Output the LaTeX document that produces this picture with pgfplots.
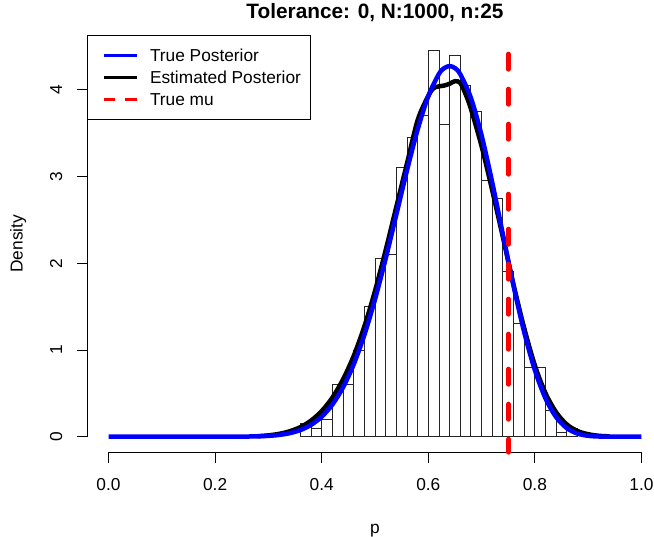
\documentclass[border=0pt]{standalone}
\usepackage{fontspec}
\setmainfont{Liberation Sans}
\usepackage{pgfplots}
\pgfplotsset{compat=1.18}
\definecolor{rblue}{RGB}{0,0,255}
\definecolor{rred}{RGB}{255,0,0}
\begin{document}
\fontsize{17.3bp}{20.8bp}\selectfont
\begin{tikzpicture}
\path[use as bounding box] (0,0) rectangle (654bp,537bp);
\begin{axis}[
 at={(87.2bp,84.9bp)}, anchor=south west,
 scale only axis, width=575.6bp, height=416.7bp,
 xmin=-0.04, xmax=1.04, ymin=-0.178, ymax=4.628,
 clip=false,
 axis x line*=bottom, axis y line*=left,
 axis line style={draw=none},
 tick align=outside, major tick length=10.4bp,
 tick style={black, line width=0.9bp},
 xtick={0,0.2,0.4,0.6,0.8,1}, ytick={0,1,2,3,4},
 xticklabels={0.0,0.2,0.4,0.6,0.8,1.0},
 yticklabels={0,1,2,3,4},
 ticklabel style={font=\fontsize{17.3bp}{20.8bp}\selectfont},
 xticklabel style={anchor=base},
 yticklabel style={rotate=90, anchor=base},
 xticklabel shift=28bp, yticklabel shift=14.6bp,
 title={Tolerance: 0, N:1000, n:25},
 title style={at={(axis description cs:0.5,1.025)}, anchor=base, yshift=0pt, font=\bfseries\fontsize{20.8bp}{25bp}\selectfont},
 xlabel={p}, ylabel={Density},
 label style={font=\fontsize{17.3bp}{20.8bp}\selectfont},
 xlabel style={at={(axis description cs:0.5,-0.1944)}, anchor=base},
 ylabel style={at={(axis description cs:-0.1124,0.5)}, anchor=base},
 legend image code/.code={\path (0bp,0bp); \draw[#1] (4.7bp,0bp) -- (37.7bp,0bp);},
 legend cell align=left,
 legend style={at={(0,1)}, anchor=north west, draw=black, line width=0.8bp, fill=white,
   font=\fontsize{17.3bp}{20.8bp}\selectfont,
   inner xsep=9.7bp, inner ysep=11.6bp, row sep=6bp, column sep=11.5bp,
   nodes={inner sep=0pt, text height=14.6bp, text depth=1.4bp}},
]
% histogram
\addplot[ybar interval, draw=black!85, fill=white, line width=0.9bp, forget plot] coordinates {
(0.36,0.15) (0.38,0.10) (0.40,0.20) (0.42,0.60) (0.44,0.60) (0.46,1.00) (0.48,1.50)
(0.50,2.05) (0.52,2.10) (0.54,3.10) (0.56,3.45) (0.58,3.70) (0.60,4.45) (0.62,3.60)
(0.64,4.40) (0.66,4.05) (0.68,3.75) (0.70,2.95) (0.72,2.75) (0.74,1.90) (0.76,1.30)
(0.78,0.80) (0.80,0.80) (0.82,0.30) (0.84,0.05) (0.86,0.10) (0.88,0.10)};
% axis lines (R style)
\addplot[black, line width=0.9bp, forget plot] coordinates {(0,-0.178) (1,-0.178)};
\addplot[black, line width=0.9bp, forget plot] coordinates {(-0.04,0) (-0.04,4)};
% estimated posterior
\addplot[black, line width=4.5bp, smooth, forget plot] coordinates {
(0.28,0.005) (0.30,0.015) (0.32,0.032) (0.34,0.062) (0.36,0.11) (0.38,0.185) (0.40,0.295)
(0.42,0.45) (0.44,0.66) (0.46,0.93) (0.48,1.27) (0.50,1.68) (0.52,2.15) (0.54,2.65)
(0.56,3.15) (0.58,3.65) (0.60,3.93) (0.61,4.02) (0.62,4.04) (0.63,4.05) (0.64,4.07)
(0.65,4.10) (0.66,4.08) (0.67,3.95) (0.68,3.78) (0.70,3.35) (0.72,2.84) (0.74,2.30)
(0.76,1.75) (0.78,1.25) (0.80,0.82) (0.82,0.50) (0.84,0.28) (0.86,0.14) (0.88,0.065)
(0.90,0.028) (0.92,0.010) (0.94,0.003)};
% true posterior
\addplot[rblue, line width=4.5bp, smooth, forget plot] coordinates {
(0,0) (0.1,0) (0.2,0.00005) (0.22,0.00017) (0.24,0.00054) (0.26,0.00154) (0.28,0.00394)
(0.30,0.00923) (0.32,0.01996) (0.34,0.0403) (0.36,0.0762) (0.38,0.1359) (0.40,0.2299)
(0.42,0.3699) (0.44,0.5677) (0.46,0.8334) (0.48,1.1725) (0.50,1.583) (0.52,2.053)
(0.54,2.560) (0.56,3.071) (0.58,3.542) (0.60,3.928) (0.62,4.184) (0.63,4.251)
(0.64,4.274) (0.65,4.251) (0.66,4.180) (0.68,3.906) (0.70,3.475) (0.72,2.931)
(0.74,2.332) (0.76,1.738) (0.78,1.204) (0.80,0.7655) (0.82,0.4403) (0.84,0.2243)
(0.86,0.0983) (0.88,0.0354) (0.90,0.00984) (0.92,0.00188) (0.94,0.0002) (0.96,0.00001) (1.0,0)};
% true mu
\addplot[rred, line width=5bp, line cap=round, dash pattern=on 15bp off 20bp, dash phase=16.2bp, forget plot]
 coordinates {(0.75,4.628) (0.75,-0.178)};
\addlegendimage{rblue, line width=3bp}\addlegendentry{True Posterior}
\addlegendimage{black, line width=3bp}\addlegendentry{Estimated Posterior}
\addlegendimage{rred, line width=3.5bp, dash pattern=on 11.5bp off 10bp}\addlegendentry{True mu}
\end{axis}
\end{tikzpicture}
\end{document}
